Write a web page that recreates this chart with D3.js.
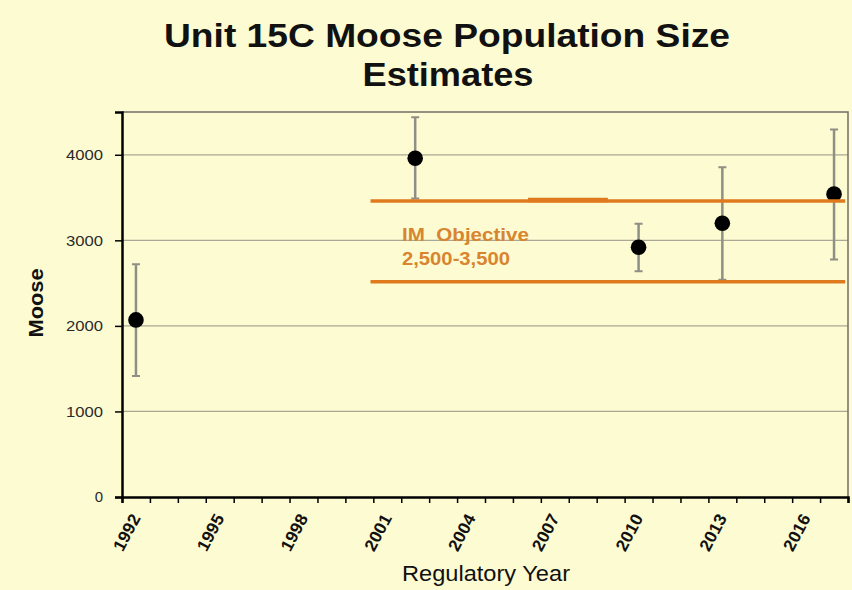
<!DOCTYPE html>
<html>
<head>
<meta charset="utf-8">
<script src="https://cdn.jsdelivr.net/npm/d3@7"></script>
<style>
  body { margin: 0; background: #fdfbd1; }
  svg { display: block; font-family: Arial, "Liberation Sans", Helvetica, sans-serif; }
</style>
</head>
<body>
<div id="chart"></div>
<script>
// survey years and moose estimates
const years = [1992, 2002, 2010, 2013, 2017];
const estimates = [2070, 3960, 2920, 3200, 3540];
const lowerCI = [1415, 3490, 2640, 2540, 2775];
const upperCI = [2720, 4440, 3195, 3855, 4295];

// axis ticks
const yTicks = [0, 1000, 2000, 3000, 4000];
const xLabelYears = [1992, 1995, 1998, 2001, 2004, 2007, 2010, 2013, 2016];
const firstYear = 1992, lastYear = 2017;

// intensive management objective band
const objectiveValues = [2515, 3460];
const objectiveYears = [2000.4, 2017.4];
const objectiveLabel = ["IM  Objective", "2,500-3,500"];

const width = 852, height = 590;
const margin = {top: 112, right: 4, bottom: 93, left: 122};
const fontFamily = "Arial, 'Liberation Sans', Helvetica, sans-serif";

let svg = d3.select("#chart").append("svg")
    .attr("width", width)
    .attr("height", height)
    .attr("font-family", fontFamily);

svg.append("rect")
    .attr("width", width)
    .attr("height", height)
    .attr("fill", "#fdfbd1");

// scales: each year is a category centred on the integer year
let x = d3.scaleLinear()
    .domain([firstYear - 0.5, lastYear + 0.5])
    .range([margin.left, width - margin.right]);
let y = d3.scaleLinear()
    .domain([0, 4500])
    .range([height - margin.bottom, margin.top]);

///////// Title //////////
let title = svg.append("g").attr("font-weight", "bold").attr("fill", "#111")
    .attr("text-anchor", "middle").attr("font-size", 33);
title.append("text").attr("x", 447).attr("y", 47)
    .attr("textLength", 566).attr("lengthAdjust", "spacingAndGlyphs")
    .text("Unit 15C Moose Population Size");
title.append("text").attr("x", 448).attr("y", 86)
    .attr("textLength", 171).attr("lengthAdjust", "spacingAndGlyphs")
    .text("Estimates");

///////// Gridlines //////////
svg.append("g")
    .selectAll("line")
    .data(yTicks.filter(d => d > 0))
    .join("line")
    .attr("x1", x.range()[0]).attr("x2", x.range()[1])
    .attr("y1", d => y(d)).attr("y2", d => y(d))
    .attr("stroke", "#a9a896").attr("stroke-width", 1.2);

// top and right frame
svg.append("path")
    .attr("d", `M${x.range()[0]},${y(4500)}H${x.range()[1]}V${y(0)}`)
    .attr("fill", "none").attr("stroke", "#6f6f64").attr("stroke-width", 1.5);

///////// Axes //////////
let yAxis = svg.append("g")
    .attr("transform", `translate(${margin.left},0)`)
    .call(d3.axisLeft(y).tickValues(yTicks).tickSize(7).tickPadding(12).tickFormat(d3.format("d")));
yAxis.attr("font-family", fontFamily);
yAxis.select(".domain").attr("stroke", "#000").attr("stroke-width", 2.5);
yAxis.selectAll(".tick line").attr("stroke", "#000").attr("stroke-width", 1.5);
yAxis.selectAll(".tick text").attr("font-size", 15).attr("fill", "#2a2a2a")
    .attr("textLength", d => d === 0 ? null : 37).attr("lengthAdjust", "spacingAndGlyphs");

let boundaries = d3.range(firstYear - 0.5, lastYear + 1, 1);
let xAxis = svg.append("g")
    .attr("transform", `translate(0,${y(0)})`)
    .call(d3.axisBottom(x).tickValues(boundaries).tickSize(6).tickFormat(""));
xAxis.select(".domain").attr("stroke", "#000").attr("stroke-width", 2.5);
xAxis.selectAll(".tick line").attr("stroke", "#000").attr("stroke-width", 1.5);

// rotated year labels every third year
svg.append("g")
    .selectAll("text")
    .data(xLabelYears)
    .join("text")
    .attr("transform", d => `translate(${x(d) + 5},${y(0) + 21}) rotate(-62)`)
    .attr("text-anchor", "end")
    .attr("font-size", 17)
    .attr("font-weight", "bold")
    .attr("textLength", 39).attr("lengthAdjust", "spacingAndGlyphs")
    .attr("fill", "#111")
    .text(d => d);

// axis titles
svg.append("text")
    .attr("x", 486).attr("y", 581)
    .attr("text-anchor", "middle")
    .attr("font-size", 22)
    .attr("textLength", 168).attr("lengthAdjust", "spacingAndGlyphs")
    .attr("fill", "#111")
    .text("Regulatory Year");

svg.append("text")
    .attr("transform", "translate(43,303) rotate(-90)")
    .attr("text-anchor", "middle")
    .attr("font-size", 21)
    .attr("font-weight", "bold")
    .attr("textLength", 69).attr("lengthAdjust", "spacingAndGlyphs")
    .attr("fill", "#111")
    .text("Moose");

///////// Error bars and points //////////
let points = years.map((yr, i) => ({year: yr, est: estimates[i], lo: lowerCI[i], hi: upperCI[i]}));

let bars = svg.append("g").attr("stroke", "#8f8f86");
bars.selectAll("line.bar")
    .data(points)
    .join("line").attr("class", "bar")
    .attr("x1", d => x(d.year)).attr("x2", d => x(d.year))
    .attr("y1", d => y(d.lo)).attr("y2", d => y(d.hi))
    .attr("stroke-width", 2.5);
bars.selectAll("path.cap")
    .data(points)
    .join("path").attr("class", "cap")
    .attr("d", d => `M${x(d.year) - 4},${y(d.lo)}h8M${x(d.year) - 4},${y(d.hi)}h8`)
    .attr("stroke-width", 2);

svg.append("g")
    .selectAll("circle")
    .data(points)
    .join("circle")
    .attr("cx", d => x(d.year))
    .attr("cy", d => y(d.est))
    .attr("r", 7.8)
    .attr("fill", "#000");

///////// Objective band //////////
let objective = svg.append("g").attr("stroke", "#e07a1e");
objective.selectAll("line")
    .data(objectiveValues)
    .join("line")
    .attr("x1", x(objectiveYears[0])).attr("x2", x(objectiveYears[1]))
    .attr("y1", d => y(d)).attr("y2", d => y(d))
    .attr("stroke-width", 3.5);
// slightly heavier overlapping piece on the upper line
objective.append("line")
    .attr("x1", x(2006.04)).attr("x2", x(2008.9))
    .attr("y1", y(objectiveValues[1] + 10)).attr("y2", y(objectiveValues[1] + 10))
    .attr("stroke-width", 4.5);

svg.append("g")
    .attr("fill", "#d9842f")
    .attr("font-size", 18)
    .attr("font-weight", "bold")
    .selectAll("text")
    .data(objectiveLabel)
    .join("text")
    .attr("x", 402)
    .attr("y", (d, i) => 241 + i * 24)
    .attr("textLength", (d, i) => i === 0 ? 127 : 108)
    .attr("lengthAdjust", "spacingAndGlyphs")
    .style("white-space", "pre")
    .text(d => d);
</script>
</body>
</html>
